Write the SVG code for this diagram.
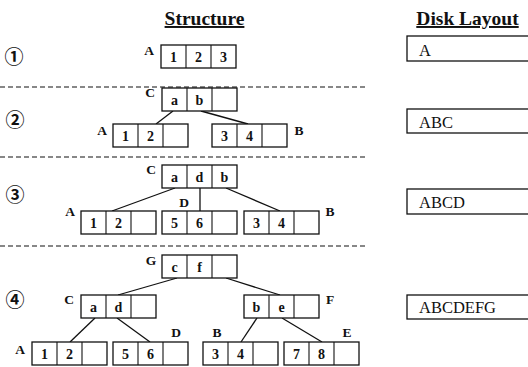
<svg xmlns="http://www.w3.org/2000/svg" width="528" height="367" viewBox="0 0 528 367">
<style>
.box{fill:#fff;stroke:#111;stroke-width:1.3}
.div{stroke:#111;stroke-width:1.1}
.cell{font-family:"Liberation Serif","Times New Roman",serif;font-size:14px;font-weight:bold;text-anchor:middle;fill:#111}
.lbl{font-family:"Liberation Serif","Times New Roman",serif;font-size:13.5px;font-weight:bold;text-anchor:middle;fill:#111}
.hdr{font-family:"Liberation Serif","Times New Roman",serif;font-size:19.5px;font-weight:bold;text-anchor:middle;fill:#111;text-decoration:underline}
.disk{font-family:"Liberation Serif","Times New Roman",serif;font-size:16.5px;fill:#111}
.num{font-family:"Noto Sans CJK JP","DejaVu Sans",sans-serif;font-size:19px;font-weight:bold;text-anchor:middle;fill:#111}
.dash{stroke:#111;stroke-width:1.2;stroke-dasharray:5 3}
.edge{stroke:#111;stroke-width:1.3;fill:none}
</style>
<defs>
<g id="b3"><rect class="box" x="0" y="0" width="75" height="23"/><line class="div" x1="25" y1="0" x2="25" y2="23"/><line class="div" x1="50" y1="0" x2="50" y2="23"/></g>
</defs>

<text class="hdr" x="204.5" y="25">Structure</text>
<text class="hdr" x="467.5" y="25">Disk Layout</text>

<g id="separators">
<line class="dash" x1="0" y1="87" x2="367" y2="87"/>
<line class="dash" x1="0" y1="157" x2="367" y2="157"/>
<line class="dash" x1="0" y1="246" x2="367" y2="246"/>
</g>

<g id="steps">
<text class="num" x="14" y="64">①</text>
<text class="num" x="15" y="127">②</text>
<text class="num" x="15" y="202">③</text>
<text class="num" x="15" y="307">④</text>
</g>

<g id="connectors">
<line class="edge" x1="173" y1="111" x2="156" y2="124"/>
<line class="edge" x1="201" y1="111" x2="248" y2="124"/>
<line class="edge" x1="175" y1="188" x2="112" y2="211"/>
<line class="edge" x1="200" y1="188" x2="200" y2="211"/>
<line class="edge" x1="226" y1="188" x2="280" y2="211"/>
<line class="edge" x1="177" y1="278" x2="118" y2="295"/>
<line class="edge" x1="226" y1="278" x2="280" y2="295"/>
<line class="edge" x1="95" y1="318" x2="70" y2="342"/>
<line class="edge" x1="117" y1="318" x2="150" y2="342"/>
<line class="edge" x1="257" y1="318" x2="241" y2="342"/>
<line class="edge" x1="282" y1="318" x2="322" y2="342"/>
</g>

<!-- Step 1 -->
<g id="s1-A"><use href="#b3" x="161" y="45"/><text class="lbl" x="149" y="55">A</text>
<text class="cell" x="173.5" y="62">1</text><text class="cell" x="198.5" y="62">2</text><text class="cell" x="223.5" y="62">3</text></g>

<!-- Step 2 -->
<g id="s2-C"><use href="#b3" x="162" y="88"/><text class="lbl" x="150" y="97">C</text>
<text class="cell" x="174.5" y="105">a</text><text class="cell" x="199.5" y="105">b</text></g>
<g id="s2-A"><use href="#b3" x="113" y="124"/><text class="lbl" x="102" y="135">A</text>
<text class="cell" x="125.5" y="141">1</text><text class="cell" x="150.5" y="141">2</text></g>
<g id="s2-B"><use href="#b3" x="212" y="124"/><text class="lbl" x="299" y="135">B</text>
<text class="cell" x="224.5" y="141">3</text><text class="cell" x="249.5" y="141">4</text></g>

<!-- Step 3 -->
<g id="s3-C"><use href="#b3" x="162" y="165"/><text class="lbl" x="151" y="174">C</text>
<text class="cell" x="174.5" y="182">a</text><text class="cell" x="199.5" y="182">d</text><text class="cell" x="224.5" y="182">b</text></g>
<g id="s3-A"><use href="#b3" x="81" y="211"/><text class="lbl" x="70" y="216">A</text>
<text class="cell" x="93.5" y="228">1</text><text class="cell" x="118.5" y="228">2</text></g>
<g id="s3-D"><use href="#b3" x="162" y="211"/><text class="lbl" x="184" y="207">D</text>
<text class="cell" x="174.5" y="228">5</text><text class="cell" x="199.5" y="228">6</text></g>
<g id="s3-B"><use href="#b3" x="244" y="211"/><text class="lbl" x="330" y="216">B</text>
<text class="cell" x="256.5" y="228">3</text><text class="cell" x="281.5" y="228">4</text></g>

<!-- Step 4 -->
<g id="s4-G"><use href="#b3" x="162" y="255"/><text class="lbl" x="151" y="265">G</text>
<text class="cell" x="174.5" y="272">c</text><text class="cell" x="199.5" y="272">f</text></g>
<g id="s4-C"><use href="#b3" x="81" y="295"/><text class="lbl" x="69" y="304">C</text>
<text class="cell" x="93.5" y="312">a</text><text class="cell" x="118.5" y="312">d</text></g>
<g id="s4-F"><use href="#b3" x="244" y="295"/><text class="lbl" x="330" y="304">F</text>
<text class="cell" x="256.5" y="312">b</text><text class="cell" x="281.5" y="312">e</text></g>
<g id="s4-A"><use href="#b3" x="32" y="342"/><text class="lbl" x="20" y="354">A</text>
<text class="cell" x="44.5" y="359">1</text><text class="cell" x="69.5" y="359">2</text></g>
<g id="s4-D"><use href="#b3" x="113" y="342"/><text class="lbl" x="176" y="337">D</text>
<text class="cell" x="125.5" y="359">5</text><text class="cell" x="150.5" y="359">6</text></g>
<g id="s4-B"><use href="#b3" x="203" y="342"/><text class="lbl" x="217" y="337">B</text>
<text class="cell" x="215.5" y="359">3</text><text class="cell" x="240.5" y="359">4</text></g>
<g id="s4-E"><use href="#b3" x="284" y="342"/><text class="lbl" x="347" y="337">E</text>
<text class="cell" x="296.5" y="359">7</text><text class="cell" x="321.5" y="359">8</text></g>

<!-- Disk layout -->
<g id="disk1"><rect class="box" x="407" y="36" width="130" height="25"/><text class="disk" x="419" y="56">A</text></g>
<g id="disk2"><rect class="box" x="407" y="109" width="130" height="24"/><text class="disk" x="419" y="128">ABC</text></g>
<g id="disk3"><rect class="box" x="407" y="189" width="130" height="25"/><text class="disk" x="419" y="208">ABCD</text></g>
<g id="disk4"><rect class="box" x="407" y="295" width="130" height="24"/><text class="disk" x="419" y="313">ABCDEFG</text></g>
</svg>
